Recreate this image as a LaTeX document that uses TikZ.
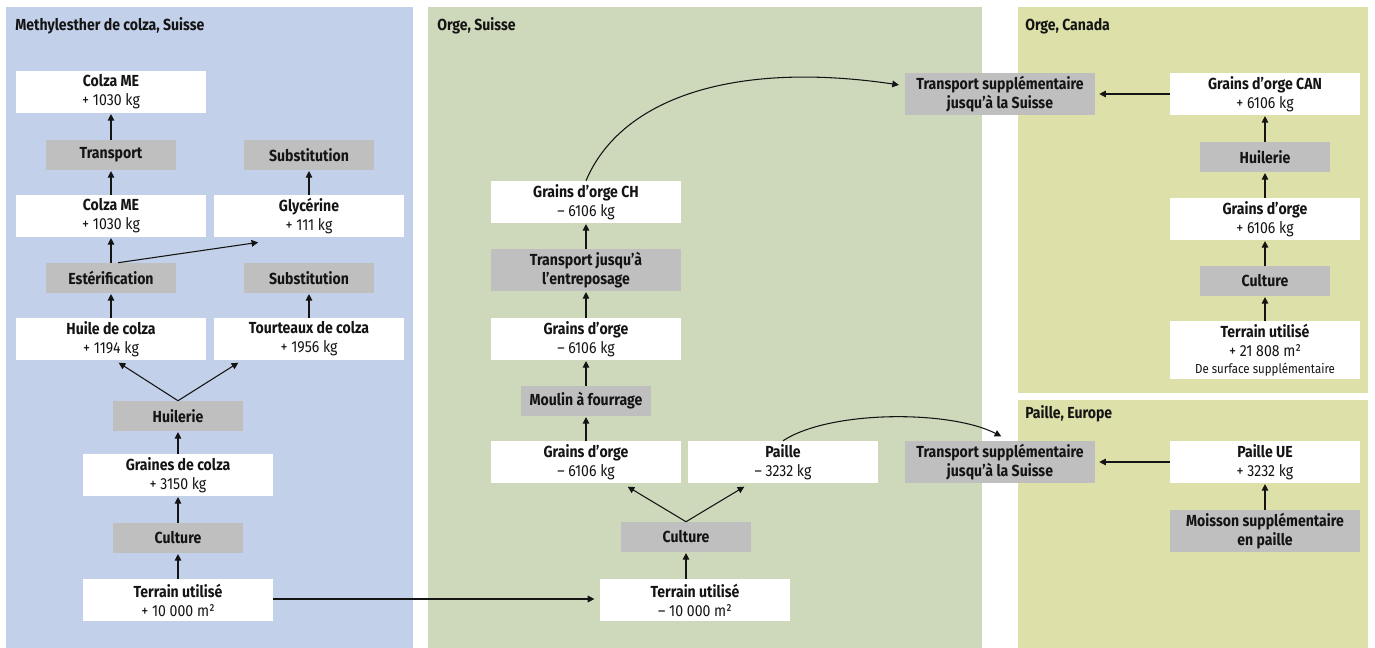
\documentclass[tikz,border=0pt]{standalone}
\usepackage{fontspec}
\setmainfont{Fira Sans}[FakeStretch=0.88]
\usetikzlibrary{arrows.meta}
\definecolor{pblue}{RGB}{195,208,233}
\definecolor{pgreen}{RGB}{206,217,187}
\definecolor{pyellow}{RGB}{222,224,170}
\definecolor{bgray}{RGB}{191,191,191}
\definecolor{ink}{RGB}{20,20,20}
\begin{document}
\begin{tikzpicture}[x=0.75pt,y=-0.75pt,
  every node/.style={text=ink},
  wbox/.style={fill=white, minimum width=142.5pt, minimum height=31.5pt, inner sep=0pt, align=center, font=\fontsize{12}{14.3}\selectfont},
  gbox/.style={fill=bgray, minimum width=97.5pt, minimum height=22.5pt, inner sep=0pt, align=center, font=\fontsize{12}{14.3}\selectfont\bfseries},
  gboxw/.style={gbox, minimum width=142.5pt, minimum height=31.5pt},
  ttl/.style={anchor=base west, inner sep=0pt, font=\fontsize{12}{14}\selectfont\bfseries},
  arr/.style={draw=ink, line width=0.8pt, shorten >=0.6pt, -{Triangle[length=5pt,width=5pt]}}]
\useasboundingbox (0,0) rectangle (1375,648);
% panels
\fill[pblue] (6,7) rectangle (413,648);
\fill[pgreen] (428,7) rectangle (982,648);
\fill[pyellow] (1018,7) rectangle (1368,393);
\fill[pyellow] (1018,400) rectangle (1368,648);
\node[ttl] (t1) at (15,31) {Methylesther de colza, Suisse};
\node[ttl] (t2) at (437,31) {Orge, Suisse};
\node[ttl] (t3) at (1025,31) {Orge, Canada};
\node[ttl] (t4) at (1025,419) {Paille, Europe};
% panel 1
\node[wbox] (cme1) at (111,92) {\textbf{Colza ME}\\+ 1030 kg};
\node[gbox] (tr1) at (111,155) {Transport};
\node[gbox] (sub1) at (309,155) {Substitution};
\node[wbox] (cme2) at (111,216) {\textbf{Colza ME}\\+ 1030 kg};
\node[wbox] (gly) at (309,216) {\textbf{Glycérine}\\+ 111 kg};
\node[gbox] (est) at (111,278) {Estérification};
\node[gbox] (sub2) at (309,278) {Substitution};
\node[wbox] (huile) at (111,339) {\textbf{Huile de colza}\\+ 1194 kg};
\node[wbox] (tourt) at (309,339) {\textbf{Tourteaux de colza}\\+ 1956 kg};
\node[gbox] (hu1) at (178,416) {Huilerie};
\node[wbox] (graines) at (178,475) {\textbf{Graines de colza}\\+ 3150 kg};
\node[gbox] (cul1) at (178,538) {Culture};
\node[wbox] (ter1) at (178,600) {\textbf{Terrain utilisé}\\+ 10 000 m²};
% panel 2
\node[wbox] (gch) at (586,202) {\textbf{Grains d’orge CH}\\– 6106 kg};
\node[gboxw] (trent) at (586,270) {Transport jusqu’à\\l’entreposage};
\node[wbox] (go2) at (586,339) {\textbf{Grains d’orge}\\– 6106 kg};
\node[gbox] (moulin) at (586,401) {Moulin à fourrage};
\node[wbox] (go1) at (586,462) {\textbf{Grains d’orge}\\– 6106 kg};
\node[wbox] (paille) at (783,462) {\textbf{Paille}\\– 3232 kg};
\node[gbox] (cul2) at (686,537) {Culture};
\node[wbox] (ter2) at (695,600) {\textbf{Terrain utilisé}\\– 10 000 m²};
% transports
\node[gboxw] (tsu) at (1000,94) {Transport supplémentaire\\jusqu’à la Suisse};
\node[gboxw] (tsl) at (1000,462) {Transport supplémentaire\\jusqu’à la Suisse};
% panel 3
\node[wbox] (gcan) at (1265,94) {\textbf{Grains d’orge CAN}\\+ 6106 kg};
\node[gbox] (hu3) at (1265,157) {Huilerie};
\node[wbox] (go3) at (1265,219) {\textbf{Grains d’orge}\\+ 6106 kg};
\node[gbox] (cul3) at (1265,281) {Culture};
\node[wbox, minimum height=43.5pt] (ter3) at (1265,350) {\textbf{Terrain utilisé}\\+ 21 808 m²\\[-2pt]{\fontsize{9.8}{11}\selectfont De surface supplémentaire}};
% panel 4
\node[wbox] (pue) at (1265,462) {\textbf{Paille UE}\\+ 3232 kg};
\node[gboxw] (moiss) at (1265,531) {Moisson supplémentaire\\en paille};
% arrows panel 1
\draw[arr] (tr1) -- (cme1);
\draw[arr] (cme2) -- (tr1);
\draw[arr] (est) -- (cme2);
\draw[arr] (gly) -- (sub1);
\draw[arr] (tourt) -- (sub2);
\draw[arr] ([xshift=5.25pt]est.north) -- ([xshift=-37.5pt,yshift=-3.75pt]gly.south);
\draw[arr] (huile) -- (est);
\draw[arr] (hu1.north) -- ([xshift=5.25pt,yshift=-1.5pt]huile.south);
\draw[arr] (hu1.north) -- ([xshift=-52.5pt,yshift=-1.5pt]tourt.south);
\draw[arr] (graines) -- (hu1);
\draw[arr] (cul1) -- (graines);
\draw[arr] (ter1) -- (cul1);
\draw[arr, shorten >=4pt] (ter1.east |- 0,599) -- (ter2.west |- 0,599);
% arrows panel 2
\draw[arr] (ter2.north -| cul2.south) -- (cul2.south);
\draw[arr] (cul2.north) -- ([xshift=30.75pt,yshift=-2.25pt]go1.south);
\draw[arr] (cul2.north) -- ([xshift=-28.5pt,yshift=-2.25pt]paille.south);
\draw[arr] (go1) -- (moulin);
\draw[arr] (moulin) -- (go2);
\draw[arr] (go2) -- (trent);
\draw[arr] (trent) -- (gch);
\draw[arr] (gch.north) .. controls (620,100) and (730,60) .. ([xshift=-3.75pt,yshift=6.75pt]tsu.west);
\draw[arr] (paille.north) .. controls (830,410) and (950,410) .. ([xshift=1.5pt,yshift=3pt]tsl.north);
% arrows panel 3/4
\draw[arr, shorten >=3pt] (gcan) -- (tsu);
\draw[arr] (ter3) -- (cul3);
\draw[arr] (cul3) -- (go3);
\draw[arr] (go3) -- (hu3);
\draw[arr] (hu3) -- (gcan);
\draw[arr, shorten >=3pt] (pue) -- (tsl);
\draw[arr] (moiss) -- (pue);
\end{tikzpicture}
\end{document}
